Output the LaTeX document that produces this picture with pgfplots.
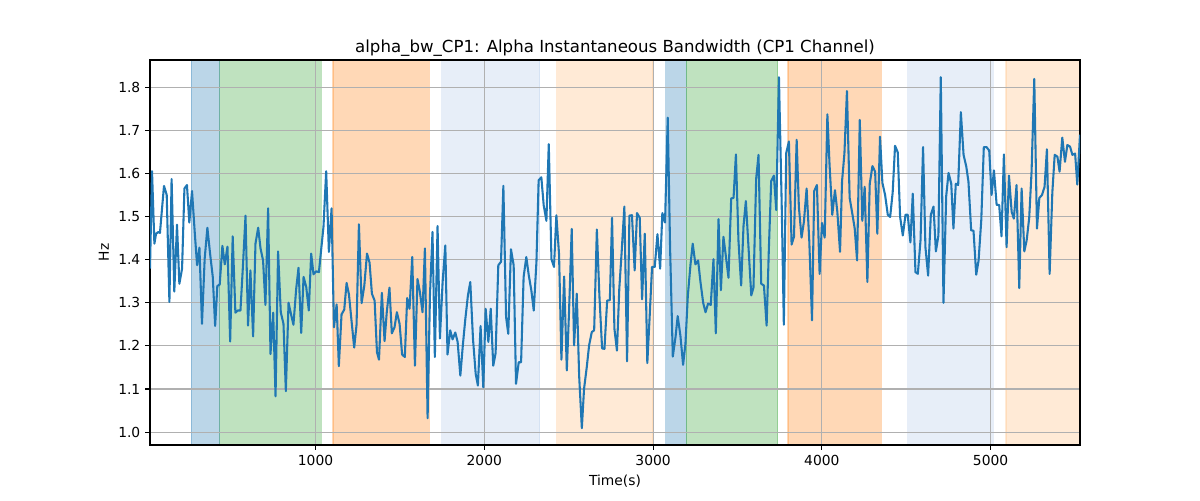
\documentclass[border=0pt]{standalone}
\usepackage{pgfplots}
\pgfplotsset{compat=1.18}
\usepackage{fontspec}
\setmainfont{DejaVu Sans}
\definecolor{tabblue}{HTML}{1F77B4}
\definecolor{tabgreen}{HTML}{2CA02C}
\definecolor{taborange}{HTML}{FF7F0E}
\definecolor{lightblue}{HTML}{AEC7E8}
\definecolor{lightorange}{HTML}{FFBB78}
\definecolor{gridgray}{HTML}{B0B0B0}
\pgfplotstableread{
x y
19 1.379
31 1.605
45 1.437
55 1.460
68 1.464
78 1.462
90 1.517
102 1.571
118 1.550
134 1.302
147 1.587
163 1.326
179 1.481
193 1.344
209 1.379
223 1.565
238 1.573
252 1.486
268 1.559
284 1.464
298 1.387
312 1.428
327 1.251
343 1.402
359 1.474
375 1.414
391 1.360
405 1.246
418 1.339
432 1.342
448 1.432
462 1.389
478 1.430
494 1.210
509 1.454
525 1.277
539 1.282
555 1.282
569 1.380
585 1.502
600 1.247
614 1.375
630 1.222
644 1.437
660 1.474
674 1.426
689 1.398
703 1.295
719 1.519
733 1.181
749 1.277
763 1.083
778 1.419
794 1.278
810 1.251
824 1.095
840 1.300
856 1.271
869 1.249
885 1.331
899 1.381
915 1.230
929 1.360
945 1.336
960 1.282
974 1.414
988 1.366
1004 1.373
1020 1.371
1034 1.426
1047 1.476
1063 1.605
1079 1.418
1095 1.519
1109 1.243
1125 1.296
1138 1.153
1154 1.273
1170 1.284
1184 1.346
1198 1.319
1214 1.255
1229 1.196
1243 1.249
1257 1.482
1273 1.299
1289 1.340
1305 1.414
1320 1.393
1334 1.321
1350 1.305
1364 1.185
1376 1.168
1393 1.323
1409 1.211
1422 1.278
1438 1.335
1452 1.229
1468 1.243
1482 1.278
1498 1.251
1513 1.180
1529 1.174
1543 1.311
1557 1.286
1573 1.406
1589 1.154
1604 1.355
1618 1.326
1634 1.278
1648 1.426
1664 1.032
1678 1.317
1693 1.464
1707 1.174
1723 1.478
1737 1.217
1753 1.348
1769 1.433
1782 1.180
1798 1.236
1812 1.215
1828 1.231
1842 1.209
1858 1.131
1873 1.202
1887 1.260
1903 1.317
1917 1.348
1933 1.216
1949 1.135
1962 1.108
1978 1.246
1994 1.104
2008 1.286
2024 1.209
2038 1.286
2053 1.154
2067 1.183
2083 1.387
2099 1.395
2113 1.571
2129 1.267
2142 1.228
2158 1.424
2174 1.387
2188 1.112
2204 1.162
2218 1.162
2233 1.360
2249 1.406
2263 1.365
2279 1.328
2293 1.282
2309 1.395
2322 1.584
2338 1.591
2352 1.526
2368 1.490
2382 1.668
2398 1.401
2413 1.383
2427 1.503
2443 1.412
2457 1.168
2473 1.361
2489 1.143
2502 1.278
2518 1.471
2532 1.201
2548 1.321
2562 1.131
2578 1.009
2591 1.100
2607 1.150
2621 1.201
2637 1.232
2651 1.236
2667 1.470
2682 1.317
2698 1.194
2712 1.193
2728 1.305
2744 1.306
2757 1.497
2771 1.240
2786 1.189
2800 1.333
2814 1.418
2830 1.523
2846 1.164
2860 1.502
2875 1.503
2891 1.375
2905 1.508
2921 1.497
2935 1.308
2951 1.460
2966 1.160
2980 1.269
2994 1.383
3010 1.383
3026 1.459
3042 1.379
3055 1.508
3071 1.486
3087 1.729
3101 1.426
3117 1.175
3133 1.220
3146 1.269
3162 1.224
3178 1.156
3192 1.205
3206 1.316
3222 1.389
3235 1.437
3251 1.389
3267 1.398
3281 1.348
3297 1.300
3311 1.278
3326 1.298
3342 1.295
3358 1.401
3372 1.229
3388 1.494
3402 1.329
3417 1.453
3433 1.403
3447 1.358
3463 1.542
3477 1.543
3491 1.644
3506 1.445
3522 1.340
3536 1.478
3550 1.536
3566 1.426
3582 1.317
3595 1.335
3611 1.588
3625 1.643
3641 1.344
3657 1.340
3673 1.247
3686 1.422
3700 1.582
3716 1.595
3730 1.515
3746 1.823
3762 1.534
3775 1.249
3789 1.647
3805 1.674
3821 1.435
3835 1.453
3851 1.678
3864 1.523
3880 1.451
3894 1.488
3910 1.565
3926 1.441
3942 1.259
3955 1.559
3971 1.573
3987 1.367
4001 1.485
4017 1.451
4033 1.737
4046 1.619
4062 1.504
4078 1.561
4092 1.511
4108 1.418
4120 1.582
4134 1.646
4149 1.791
4165 1.543
4179 1.511
4195 1.472
4209 1.398
4225 1.724
4240 1.490
4254 1.569
4270 1.348
4284 1.576
4300 1.617
4316 1.604
4329 1.460
4345 1.685
4359 1.578
4375 1.550
4391 1.504
4405 1.499
4420 1.556
4434 1.664
4450 1.649
4464 1.499
4480 1.456
4496 1.504
4509 1.504
4525 1.440
4539 1.553
4555 1.371
4569 1.367
4585 1.445
4600 1.661
4614 1.429
4630 1.363
4646 1.504
4662 1.523
4676 1.419
4691 1.456
4705 1.823
4721 1.300
4737 1.547
4751 1.601
4767 1.576
4780 1.472
4794 1.576
4808 1.573
4824 1.742
4840 1.643
4856 1.616
4869 1.581
4885 1.468
4899 1.467
4915 1.365
4929 1.398
4945 1.492
4960 1.661
4976 1.661
4992 1.653
5006 1.550
5020 1.607
5036 1.527
5051 1.527
5065 1.454
5079 1.644
5095 1.429
5109 1.595
5125 1.511
5138 1.495
5154 1.573
5170 1.334
5184 1.565
5200 1.419
5214 1.445
5229 1.497
5243 1.604
5259 1.819
5275 1.472
5289 1.543
5305 1.550
5320 1.569
5334 1.656
5350 1.367
5366 1.555
5380 1.643
5396 1.639
5409 1.604
5425 1.683
5441 1.627
5455 1.666
5471 1.662
5485 1.643
5501 1.646
5514 1.574
5530 1.690
}\datatable
\newcommand{\vspan}[3]{\addplot[on layer=axis background, fill=#3, fill opacity=0.3, draw=#3, draw opacity=0.3, line width=1pt] coordinates {(#1,0.97) (#1,1.863) (#2,1.863) (#2,0.97)} -- cycle;}
\begin{document}
\begin{tikzpicture}
\begin{axis}[
  name=ax,
  set layers,
  scale only axis,
  width=9.3in, height=3.85in,
  xmin=19, xmax=5530,
  ymin=0.97, ymax=1.863,
  xtick={1000,2000,3000,4000,5000},
  ytick={1.0,1.1,1.2,1.3,1.4,1.5,1.6,1.7,1.8},
  yticklabel style={/pgf/number format/.cd, fixed, fixed zerofill, precision=1},
  /pgf/number format/1000 sep={},
  /pgf/number format/assume math mode=true,
  ticklabel style={font=\fontsize{10}{12}\selectfont},
  tick align=outside,
  major tick length=3.5pt,
  tick style={black, line width=0.8pt},
  xtick pos=bottom, ytick pos=left,
  grid=major,
  major grid style={gridgray, line width=0.8pt},
  axis line style={black, line width=0.8pt},
  title={alpha\_bw\_CP1: Alpha Instantaneous Bandwidth (CP1 Channel)},
  title style={font=\fontsize{12}{14}\selectfont, yshift=-7pt},
  xlabel={Time(s)},
  ylabel={Hz},
  label style={font=\fontsize{10}{12}\selectfont},
]
\vspan{264}{432}{tabblue}
\vspan{432}{1034}{tabgreen}
\vspan{1103}{1674}{taborange}
\vspan{1747}{2328}{lightblue}
\vspan{2429}{3000}{lightorange}
\vspan{3075}{3198}{tabblue}
\vspan{3198}{3738}{tabgreen}
\vspan{3799}{4353}{taborange}
\vspan{4509}{5016}{lightblue}
\vspan{5091}{5530}{lightorange}
\addplot[tabblue, line width=1.5pt, line join=round, mark=none] table[x=x,y=y] {\datatable};
\end{axis}
\pgfresetboundingbox
\path[use as bounding box] ([xshift=-1.5in,yshift=-0.55in]ax.south west) rectangle ([xshift=1.2in,yshift=0.6in]ax.north east);
\end{tikzpicture}
\end{document}
